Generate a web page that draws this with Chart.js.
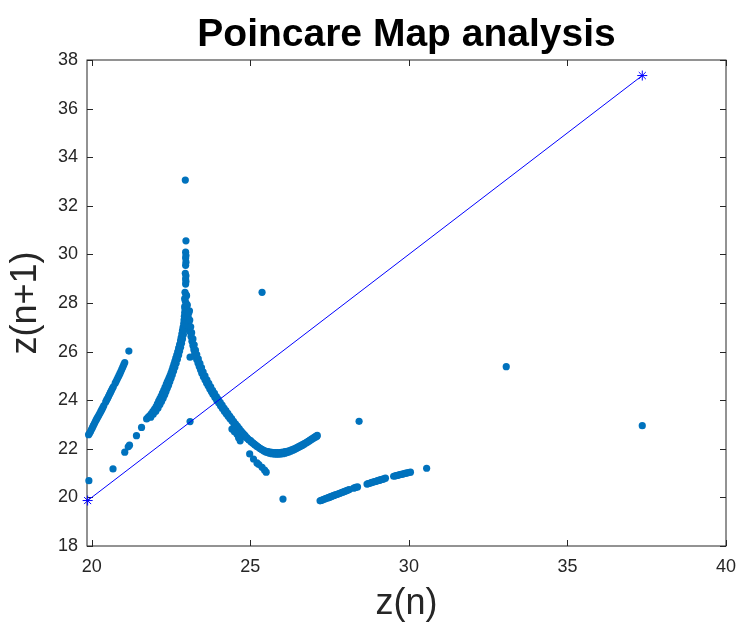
<!DOCTYPE html>
<html>
<head>
<meta charset="utf-8">
<script src="https://cdn.jsdelivr.net/npm/chart.js@4/dist/chart.umd.min.js"></script>
<style>
  html, body { margin: 0; padding: 0; background: #ffffff; }
  #wrap { width: 736px; height: 628px; }
</style>
</head>
<body>
<div id="wrap"><canvas id="poincare" width="736" height="628"></canvas></div>
<script>
// Axis ticks
const xTicks = [20, 25, 30, 35, 40];
const yTicks = [18, 20, 22, 24, 26, 28, 30, 32, 34, 36, 38];

// Identity line z(n+1) = z(n) between the smallest and largest z
const diagonalZ = [19.87, 37.36];

// Return map samples [z(n), z(n+1)]
const leftBranch = [
  [19.90,22.58],[19.93,22.64],[19.96,22.71],[19.99,22.79],[20.02,22.87],[20.05,22.95],
  [20.08,23.03],[20.11,23.11],[20.14,23.19],[20.17,23.26],[20.20,23.33],[20.23,23.40],
  [20.26,23.47],[20.29,23.55],[20.32,23.62],[20.35,23.70],[20.38,23.78],[20.44,23.93],
  [20.47,24.01],[20.50,24.08],[20.53,24.16],[20.56,24.24],[20.59,24.32],[20.62,24.40],
  [20.65,24.48],[20.68,24.55],[20.74,24.70],[20.77,24.78],[20.80,24.86],[20.83,24.94],
  [20.86,25.02],[20.89,25.10],[20.92,25.19],[20.95,25.28],[20.98,25.37],[21.01,25.46],
  [21.04,25.55],[21.17,26.02]
];

const lowerPoints = [
  [19.91,20.69],[20.67,21.17],[21.04,21.86],[21.15,22.08],[21.19,22.15],[21.41,22.54],[21.57,22.88]
];

const cuspLeftArm = [
  [21.73,23.23],[21.78,23.30],[21.83,23.37],[21.88,23.45],[21.93,23.54],[21.98,23.63],
  [22.03,23.74],[22.07,23.85],[22.11,23.96],[22.15,24.07],[22.19,24.17],[22.23,24.29],
  [22.27,24.41],[22.31,24.53],[22.35,24.65],[22.38,24.74],[22.41,24.83],[22.44,24.92],
  [22.47,25.01],[22.50,25.12],[22.53,25.23],[22.56,25.35],[22.59,25.48],[22.62,25.60],
  [22.65,25.73],[22.68,25.86],[22.71,25.99],[22.74,26.14],[22.77,26.29],[22.80,26.45],
  [22.82,26.58],[22.84,26.72],[22.86,26.86],[22.88,27.00],[22.90,27.15],[22.91,27.30],
  [22.92,27.45],[22.93,27.60],[22.94,27.75],
  [21.86,23.30],[21.94,23.42],[22.02,23.55],[22.09,23.68],[22.15,23.82],[22.20,23.95],
  [22.25,24.08],[22.30,24.22],[22.34,24.36],[22.38,24.49],[22.42,24.62],[22.46,24.76],
  [22.50,24.90],[22.54,25.05],[22.58,25.20],[22.62,25.36],[22.66,25.52],[22.70,25.69],
  [22.74,25.86],[22.77,26.02],[22.80,26.18],[22.83,26.34],[22.86,26.52],[22.89,26.70],
  [22.92,26.90],[22.95,27.10],[22.97,27.30],[22.99,27.50]
];

const peakColumn = [
  [22.95,33.06],[22.97,30.56],[22.96,30.09],[22.97,29.95],[22.96,29.85],[22.97,29.68],
  [22.96,29.55],[22.95,29.22],[22.97,29.12],[22.96,28.99],[22.97,28.88],[22.96,28.78],
  [22.94,28.44],[22.97,28.35],[22.99,28.30],[22.93,28.18],[22.95,28.08],[22.98,27.98],
  [23.01,27.92],[22.93,27.85],[23.08,27.68]
];

const cuspRightArm = [
  [23.00,27.90],[23.02,27.65],[23.04,27.42],[23.06,27.20],[23.08,27.00],[23.10,26.82],
  [23.13,26.62],[23.16,26.43],[23.19,26.25],[23.22,26.08],[23.25,25.93],[23.28,25.80],
  [23.31,25.68],[23.35,25.53],[23.39,25.39],[23.43,25.25],[23.47,25.11],[23.52,24.97],
  [23.57,24.84],[23.62,24.71],[23.67,24.59],[23.72,24.47],[23.77,24.36],[23.82,24.25],
  [23.88,24.12],[23.94,24.00],[24.00,23.89],[24.06,23.77],[24.12,23.66],[24.18,23.55],
  [24.24,23.44],[24.30,23.34],[24.36,23.24],[24.42,23.14],[24.48,23.04],[24.54,22.95],
  [24.60,22.86],[24.66,22.77],[24.72,22.69],[24.78,22.61],[24.84,22.50],[24.90,22.43],
  [24.96,22.36],[25.02,22.29],[25.08,22.23],[25.14,22.17],[25.20,22.11],[25.26,22.06],
  [25.32,22.01],[25.38,21.97],[25.44,21.93],[25.50,21.90],[25.56,21.88],[25.62,21.86],
  [25.68,21.85],[25.74,21.84],[25.80,21.84],[25.86,21.84],[25.92,21.84],[25.98,21.85],
  [26.04,21.86],[26.10,21.88],[26.16,21.90],[26.22,21.92],[26.28,21.95],[26.34,21.98],
  [26.40,22.01],[26.46,22.05],[26.52,22.09],[26.58,22.13],[26.64,22.17],[26.70,22.21],
  [26.76,22.26],[26.82,22.31],[26.88,22.36],[26.94,22.41],[27.00,22.46],[27.06,22.51],
  [27.11,22.55],
  [23.06,27.60],[23.09,27.30],[23.12,27.02],[23.15,26.78],[23.19,26.52],[23.23,26.28],
  [23.27,26.06],[23.31,25.88],[23.36,25.70],[23.41,25.52],[23.46,25.34],[23.51,25.17],
  [23.57,25.00],[23.63,24.84],[23.69,24.69],[23.75,24.55],[23.81,24.41],[23.87,24.28],
  [23.93,24.15],[23.99,24.03],[24.05,23.91],[24.11,23.80],[24.17,23.68],[24.23,23.57],
  [24.29,23.46],[24.35,23.35],[24.41,23.24],[24.47,23.13],[24.53,23.03],[24.59,22.93],
  [24.65,22.83],[24.71,22.73],[24.77,22.64],[24.83,22.55],[24.89,22.46],[24.95,22.38],
  [25.01,22.34],[25.07,22.26],[25.13,22.19],[25.19,22.13],[25.25,22.07],[25.31,22.01],
  [25.37,21.96],[25.43,21.91],[25.49,21.87],[25.55,21.84],[25.61,21.82],[25.67,21.80],
  [25.73,21.79],[25.79,21.78],[25.85,21.78],[25.91,21.78],[25.97,21.79],[26.03,21.80],
  [26.09,21.82],[26.15,21.84],[26.21,21.87],[26.27,21.90],[26.33,21.93],[26.39,21.97],
  [26.45,22.01],[26.51,22.05],[26.57,22.09],[26.63,22.13],[26.69,22.18],[26.75,22.23],
  [26.81,22.28],[26.87,22.33],[26.93,22.38],[26.99,22.43],[27.05,22.48],[27.10,22.52]
];

const spurPoints = [
  [24.42,22.81],[24.50,22.70],[24.58,22.60],[24.63,22.45],[24.68,22.33],[24.98,21.79],
  [25.10,21.58],[25.21,21.42],[25.27,21.35],[25.37,21.24],[25.45,21.12],[25.50,21.04]
];

const bottomBranch = [
  [27.20,19.86],[27.24,19.88],[27.28,19.90],[27.32,19.92],[27.36,19.94],[27.40,19.96],
  [27.44,19.98],[27.48,20.00],[27.52,20.02],[27.56,20.04],[27.60,20.06],[27.64,20.08],
  [27.68,20.10],[27.72,20.12],[27.76,20.14],[27.80,20.16],[27.84,20.18],[27.88,20.20],
  [27.92,20.22],[27.96,20.24],[28.00,20.26],[28.04,20.28],[28.08,20.30],[28.12,20.32],
  [28.26,20.38],[28.32,20.41],[28.38,20.43],
  [28.68,20.55],[28.72,20.57],[28.76,20.58],[28.80,20.60],[28.84,20.62],[28.88,20.63],
  [28.92,20.65],[28.96,20.66],[29.00,20.68],[29.04,20.70],[29.08,20.71],[29.12,20.73],
  [29.16,20.74],[29.20,20.76],[29.26,20.79],
  [29.52,20.87],[29.56,20.88],[29.60,20.90],[29.64,20.91],[29.68,20.92],[29.72,20.94],
  [29.76,20.95],[29.80,20.96],[29.84,20.97],[29.88,20.99],[29.92,21.00],[29.96,21.01],
  [30.00,21.02],[30.05,21.04]
];

const isolatedPoints = [
  [23.10,23.12],[23.10,25.77],[25.37,28.44],[26.03,19.93],[28.43,23.13],
  [30.56,21.20],[33.07,25.38],[37.36,22.95]
];

const toXY = arr => arr.map(p => ({ x: p[0], y: p[1] }));
const mapPoints = [].concat(leftBranch, lowerPoints, cuspLeftArm, peakColumn,
  cuspRightArm, spurPoints, bottomBranch, isolatedPoints);

const AXIS_COLOR = '#262626';
const FONT = '"Liberation Sans", Arial, Helvetica, sans-serif';

// Box around the axes with inward tick marks on all four sides
const axesBox = {
  id: 'axesBox',
  beforeDatasetsDraw(chart) {
    const { ctx, chartArea: a, scales: { x, y } } = chart;
    const len = 6;
    ctx.save();
    ctx.strokeStyle = AXIS_COLOR;
    ctx.lineWidth = 1;
    ctx.strokeRect(a.left, a.top, a.right - a.left, a.bottom - a.top);
    ctx.beginPath();
    xTicks.forEach(v => {
      const px = Math.round(x.getPixelForValue(v)) + 0.5;
      ctx.moveTo(px, a.bottom); ctx.lineTo(px, a.bottom - len);
      ctx.moveTo(px, a.top); ctx.lineTo(px, a.top + len);
    });
    yTicks.forEach(v => {
      const py = Math.round(y.getPixelForValue(v)) + 0.5;
      ctx.moveTo(a.left, py); ctx.lineTo(a.left + len, py);
      ctx.moveTo(a.right, py); ctx.lineTo(a.right - len, py);
    });
    ctx.stroke();
    ctx.restore();
  }
};

new Chart(document.getElementById('poincare'), {
  type: 'scatter',
  data: {
    datasets: [
      {
        type: 'line',
        data: toXY([[diagonalZ[0], diagonalZ[0]], [diagonalZ[1], diagonalZ[1]]]),
        borderColor: '#0000FF',
        borderWidth: 1,
        pointStyle: 'star',
        pointRadius: 5,
        pointBorderColor: '#0000FF',
        pointBorderWidth: 1,
        pointBackgroundColor: '#0000FF',
        fill: false,
        tension: 0,
        clip: false,
        order: 0
      },
      {
        data: toXY(mapPoints),
        pointRadius: 3.6,
        pointBackgroundColor: '#0072BD',
        pointBorderColor: '#0072BD',
        pointBorderWidth: 0,
        showLine: false,
        clip: false,
        order: 1
      }
    ]
  },
  options: {
    responsive: false,
    animation: false,
    devicePixelRatio: 1,
    layout: { padding: { left: 0, right: 10, top: 0, bottom: 0 } },
    plugins: {
      legend: { display: false },
      tooltip: { enabled: false },
      title: {
        display: true,
        fullSize: false,
        text: 'Poincare Map analysis',
        color: '#000000',
        font: { family: FONT, size: 39, weight: 'bold', lineHeight: 1.2 },
        padding: { top: 12, bottom: 1.2 }
      }
    },
    scales: {
      x: {
        type: 'linear',
        min: 19.85,
        max: 40,
        afterBuildTicks: s => { s.ticks = xTicks.map(v => ({ value: v })); },
        afterFit: s => { s.height = 82; s.paddingLeft = 0; s.paddingRight = 0; },
        grid: { display: false, drawTicks: false },
        border: { display: false },
        ticks: { color: AXIS_COLOR, padding: 10, font: { family: FONT, size: 18 }, maxRotation: 0 },
        title: {
          display: true,
          text: 'z(n)',
          color: AXIS_COLOR,
          font: { family: FONT, size: 36, lineHeight: 1.2 },
          padding: { top: 0, bottom: 2 }
        }
      },
      y: {
        type: 'linear',
        min: 18,
        max: 38,
        afterBuildTicks: s => { s.ticks = yTicks.map(v => ({ value: v })); },
        afterFit: s => { s.width = 87; s.paddingTop = 0; s.paddingBottom = 0; },
        grid: { display: false, drawTicks: false },
        border: { display: false },
        ticks: { color: AXIS_COLOR, padding: 9, font: { family: FONT, size: 18 } },
        title: {
          display: true,
          text: 'z(n+1)',
          color: AXIS_COLOR,
          font: { family: FONT, size: 36, lineHeight: 1.2 },
          padding: { top: 4, bottom: 0 }
        }
      }
    }
  },
  plugins: [axesBox]
});
</script>
</body>
</html>
